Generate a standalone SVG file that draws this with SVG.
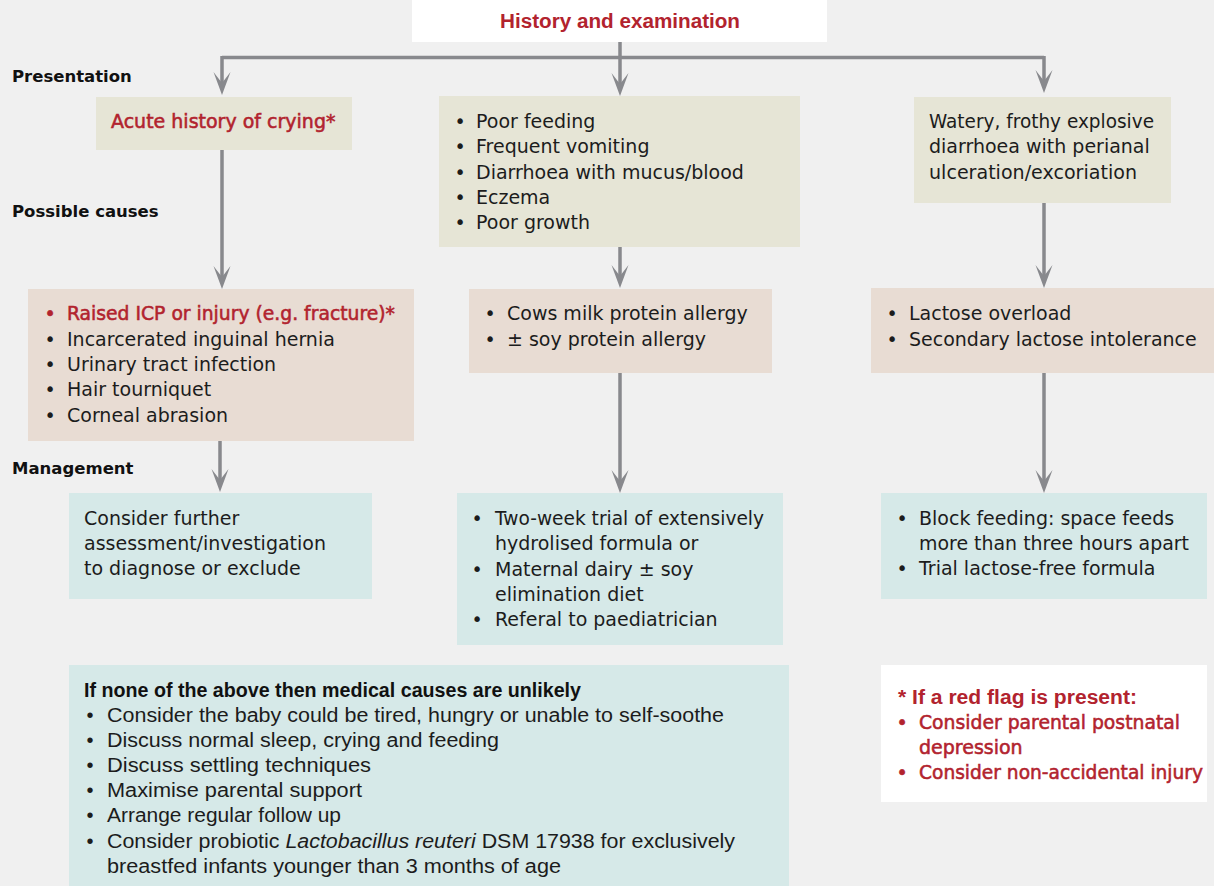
<svg xmlns="http://www.w3.org/2000/svg" width="1214" height="886" viewBox="0 0 1214 886">
<style>
.bg{fill:#f0f0f0}
.beige{fill:#e6e5d6}
.pink{fill:#e8dcd3}
.teal{fill:#d6e9e8}
.white{fill:#ffffff}
.t{font-family:"DejaVu Sans","Liberation Sans",sans-serif;font-size:19px;fill:#1c1c1c}
.r{font-family:"DejaVu Sans","Liberation Sans",sans-serif;font-size:19px;fill:#b2232e;stroke:#b2232e;stroke-width:0.55}
.lab{font-family:"DejaVu Sans","Liberation Sans",sans-serif;font-size:16.5px;font-weight:bold;fill:#111111}
.hd{font-family:"Liberation Sans",Arial,sans-serif;font-size:20px;font-weight:bold;fill:#b2232e}
.c{font-family:"Liberation Sans",Arial,sans-serif;font-size:20px;fill:#1c1c1c}
.cb{font-family:"Liberation Sans",Arial,sans-serif;font-size:20px;font-weight:bold;fill:#111111}
.b{text-anchor:middle}
.conn{fill:none;stroke:#88898d;stroke-width:3.5}
</style>
<defs>
<marker id="ah" viewBox="-24 -10 24 20" refX="-12" refY="0" markerWidth="24" markerHeight="20" markerUnits="userSpaceOnUse" orient="auto">
<path d="M0,0 L-23,-8.5 L-12,0 L-23,8.5 Z" fill="#88898d"/>
</marker>
</defs>
<rect class="bg" x="0" y="0" width="1214" height="886"/>

<g id="labels">
<text class="lab" x="12" y="82">Presentation</text>
<text class="lab" x="12" y="217">Possible causes</text>
<text class="lab" x="12" y="474">Management</text>
</g>

<g id="connectors">
<path class="conn" d="M620,42 V84" marker-end="url(#ah)"/>
<path class="conn" d="M222,57.5 H1044"/>
<path class="conn" d="M222,56 V83" marker-end="url(#ah)"/>
<path class="conn" d="M1044,56 V81" marker-end="url(#ah)"/>
<path class="conn" d="M222,150 V277" marker-end="url(#ah)"/>
<path class="conn" d="M220,441 V480" marker-end="url(#ah)"/>
<path class="conn" d="M620,247 V276" marker-end="url(#ah)"/>
<path class="conn" d="M620,373 V481" marker-end="url(#ah)"/>
<path class="conn" d="M1044,203 V276" marker-end="url(#ah)"/>
<path class="conn" d="M1044,373 V481" marker-end="url(#ah)"/>
</g>

<g id="history">
<rect class="white" x="412" y="0" width="415" height="42"/>
<text class="hd" x="500" y="28" textLength="240" lengthAdjust="spacingAndGlyphs">History and examination</text>
</g>

<g id="acute">
<rect class="beige" x="96" y="97" width="256" height="53"/>
<text class="r" x="111" y="128">Acute history of crying*</text>
</g>

<g id="symptoms">
<rect class="beige" x="439" y="96" width="361" height="151"/>
<text class="t b" x="460" y="128">•</text><text class="t" x="476" y="128">Poor feeding</text>
<text class="t b" x="460" y="153">•</text><text class="t" x="476" y="153">Frequent vomiting</text>
<text class="t b" x="460" y="179">•</text><text class="t" x="476" y="179">Diarrhoea with mucus/blood</text>
<text class="t b" x="460" y="204">•</text><text class="t" x="476" y="204">Eczema</text>
<text class="t b" x="460" y="229">•</text><text class="t" x="476" y="229">Poor growth</text>
</g>

<g id="watery">
<rect class="beige" x="914" y="97" width="257" height="106"/>
<text class="t" x="929" y="128" textLength="225" lengthAdjust="spacingAndGlyphs">Watery, frothy explosive</text>
<text class="t" x="929" y="153">diarrhoea with perianal</text>
<text class="t" x="929" y="179" textLength="208" lengthAdjust="spacingAndGlyphs">ulceration/excoriation</text>
</g>

<g id="causes-acute">
<rect class="pink" x="28" y="289" width="386" height="152"/>
<text class="r b" x="50" y="320">•</text><text class="r" x="67" y="320" textLength="328" lengthAdjust="spacingAndGlyphs">Raised ICP or injury (e.g. fracture)*</text>
<text class="t b" x="50" y="346">•</text><text class="t" x="67" y="346">Incarcerated inguinal hernia</text>
<text class="t b" x="50" y="371">•</text><text class="t" x="67" y="371">Urinary tract infection</text>
<text class="t b" x="50" y="396">•</text><text class="t" x="67" y="396">Hair tourniquet</text>
<text class="t b" x="50" y="422">•</text><text class="t" x="67" y="422">Corneal abrasion</text>
</g>

<g id="causes-allergy">
<rect class="pink" x="469" y="289" width="303" height="84"/>
<text class="t b" x="490" y="320">•</text><text class="t" x="507" y="320">Cows milk protein allergy</text>
<text class="t b" x="490" y="346">•</text><text class="t" x="507" y="346">± soy protein allergy</text>
</g>

<g id="causes-lactose">
<rect class="pink" x="871" y="288" width="343" height="85"/>
<text class="t b" x="892" y="320">•</text><text class="t" x="909" y="320">Lactose overload</text>
<text class="t b" x="892" y="346">•</text><text class="t" x="909" y="346">Secondary lactose intolerance</text>
</g>

<g id="mgmt-acute">
<rect class="teal" x="69" y="493" width="303" height="106"/>
<text class="t" x="84" y="525">Consider further</text>
<text class="t" x="84" y="550">assessment/investigation</text>
<text class="t" x="84" y="575">to diagnose or exclude</text>
</g>

<g id="mgmt-allergy">
<rect class="teal" x="457" y="493" width="326" height="152"/>
<text class="t b" x="477" y="525">•</text><text class="t" x="495" y="525" textLength="269" lengthAdjust="spacingAndGlyphs">Two-week trial of extensively</text>
<text class="t" x="495" y="550">hydrolised formula or</text>
<text class="t b" x="477" y="576">•</text><text class="t" x="495" y="576">Maternal dairy ± soy</text>
<text class="t" x="495" y="601">elimination diet</text>
<text class="t b" x="477" y="626">•</text><text class="t" x="495" y="626">Referal to paediatrician</text>
</g>

<g id="mgmt-lactose">
<rect class="teal" x="881" y="493" width="326" height="106"/>
<text class="t b" x="902" y="525">•</text><text class="t" x="919" y="525">Block feeding: space feeds</text>
<text class="t" x="919" y="550" textLength="270" lengthAdjust="spacingAndGlyphs">more than three hours apart</text>
<text class="t b" x="902" y="575">•</text><text class="t" x="919" y="575">Trial lactose-free formula</text>
</g>

<g id="none-above">
<rect class="teal" x="69" y="665" width="720" height="221"/>
<text class="cb" x="84" y="697" textLength="497" lengthAdjust="spacingAndGlyphs">If none of the above then medical causes are unlikely</text>
<text class="c b" x="90" y="722">•</text><text class="c" x="107" y="722" textLength="617" lengthAdjust="spacingAndGlyphs">Consider the baby could be tired, hungry or unable to self-soothe</text>
<text class="c b" x="90" y="747">•</text><text class="c" x="107" y="747" textLength="392" lengthAdjust="spacingAndGlyphs">Discuss normal sleep, crying and feeding</text>
<text class="c b" x="90" y="772">•</text><text class="c" x="107" y="772" textLength="264" lengthAdjust="spacingAndGlyphs">Discuss settling techniques</text>
<text class="c b" x="90" y="797">•</text><text class="c" x="107" y="797" textLength="255" lengthAdjust="spacingAndGlyphs">Maximise parental support</text>
<text class="c b" x="90" y="822">•</text><text class="c" x="107" y="822" textLength="234" lengthAdjust="spacingAndGlyphs">Arrange regular follow up</text>
<text class="c b" x="90" y="848">•</text><text class="c" x="107" y="848" textLength="628" lengthAdjust="spacingAndGlyphs">Consider probiotic <tspan font-style="italic">Lactobacillus reuteri</tspan> DSM 17938 for exclusively</text>
<text class="c" x="107" y="873" textLength="454" lengthAdjust="spacingAndGlyphs">breastfed infants younger than 3 months of age</text>
</g>

<g id="red-flag">
<rect class="white" x="881" y="665" width="326" height="137"/>
<text class="hd" x="898" y="704" textLength="239" lengthAdjust="spacingAndGlyphs">* If a red flag is present:</text>
<text class="r b" x="902" y="729">•</text><text class="r" x="919" y="729" textLength="261" lengthAdjust="spacingAndGlyphs">Consider parental postnatal</text>
<text class="r" x="919" y="754">depression</text>
<text class="r b" x="902" y="779">•</text><text class="r" x="919" y="779" textLength="284" lengthAdjust="spacingAndGlyphs">Consider non-accidental injury</text>
</g>
</svg>
